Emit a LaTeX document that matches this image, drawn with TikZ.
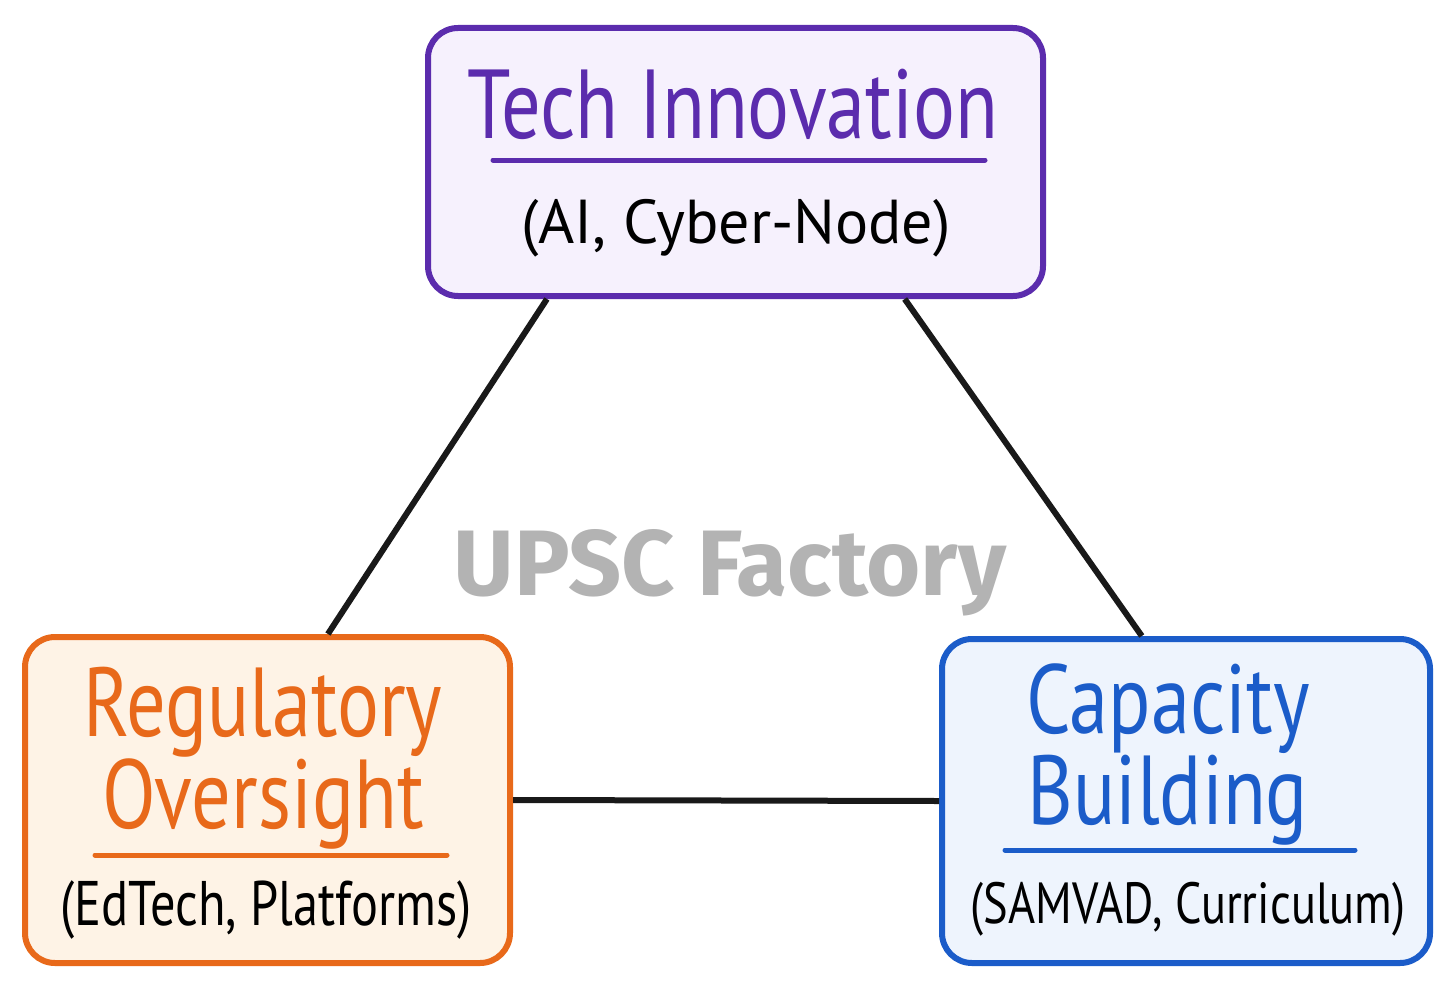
\documentclass[tikz,border=0pt]{standalone}
\usepackage{fontspec}
\usepackage{tikz}
\usetikzlibrary{positioning}
\newfontfamily\hand[FakeStretch=0.8]{PT Sans}
\newfontfamily\handsub{PT Sans}
\newfontfamily\wmfont{Fira Sans Bold}
\definecolor{techpurple}{HTML}{5B2CAD}
\definecolor{techfill}{HTML}{F6F1FD}
\definecolor{regorange}{HTML}{E8691A}
\definecolor{regfill}{HTML}{FEF3E6}
\definecolor{capblue}{HTML}{1B5CC9}
\definecolor{capfill}{HTML}{EEF4FD}
\definecolor{wmgray}{HTML}{B3B3B3}
\tikzstyle{box} = [draw, rounded corners=30pt, line width=6pt, inner sep=0pt]
\tikzstyle{title} = [anchor=base, inner sep=0pt, align=center, font=\hand\fontsize{98}{85}\selectfont]
\tikzstyle{sub} = [anchor=base, inner sep=0pt]
\tikzstyle{uline} = [line width=5pt, line cap=round]
\tikzstyle{link} = [line width=6pt, draw=black!90]

\begin{document}
\begin{tikzpicture}[x=1pt,y=-1pt]
\useasboundingbox (0,0) rectangle (1455,990);
% boxes
\node[box, draw=techpurple, fill=techfill, minimum width=615pt, minimum height=268pt] (tech) at (735.5,162) {};
\node[box, draw=regorange, fill=regfill, minimum width=485pt, minimum height=326pt] (reg) at (267.5,800) {};
\node[box, draw=capblue, fill=capfill, minimum width=488pt, minimum height=324pt] (cap) at (1186,801) {};
% links
\draw[link] (tech.216.7) -- (reg.70.6);
\draw[link] (tech.321.7) -- (cap.105.9);
\draw[link] (reg.east) -- (cap.west);
% watermark
\node[anchor=base, inner sep=0pt, text=wmgray, font=\wmfont\fontsize{93}{96}\selectfont] (wm) at (730,595) {UPSC Factory};
% texts
\node[title, text=techpurple] (techtitle) at (733,138) {Tech Innovation};
\draw[uline, techpurple] (493,160) -- (985,160);
\node[sub, font=\handsub\fontsize{62}{64}\selectfont] (techsub) at (736,243) {(AI, Cyber-Node)};
\node[title, text=regorange] (regtitle) at (263,828) {Regulatory\\Oversight};
\draw[uline, regorange] (95,855) -- (447,855);
\node[sub, font=\hand\fontsize{63}{64}\selectfont] (regsub) at (266,925) {(EdTech, Platforms)};
\node[title, text=capblue] (captitle) at (1168,824) {Capacity\\Building};
\draw[uline, capblue] (1005,850) -- (1355,850);
\node[sub, font=\hand\fontsize{58}{60}\selectfont] (capsub) at (1188,923) {(SAMVAD, Curriculum)};
%\node at (730,420) {};
\end{tikzpicture}
\end{document}
